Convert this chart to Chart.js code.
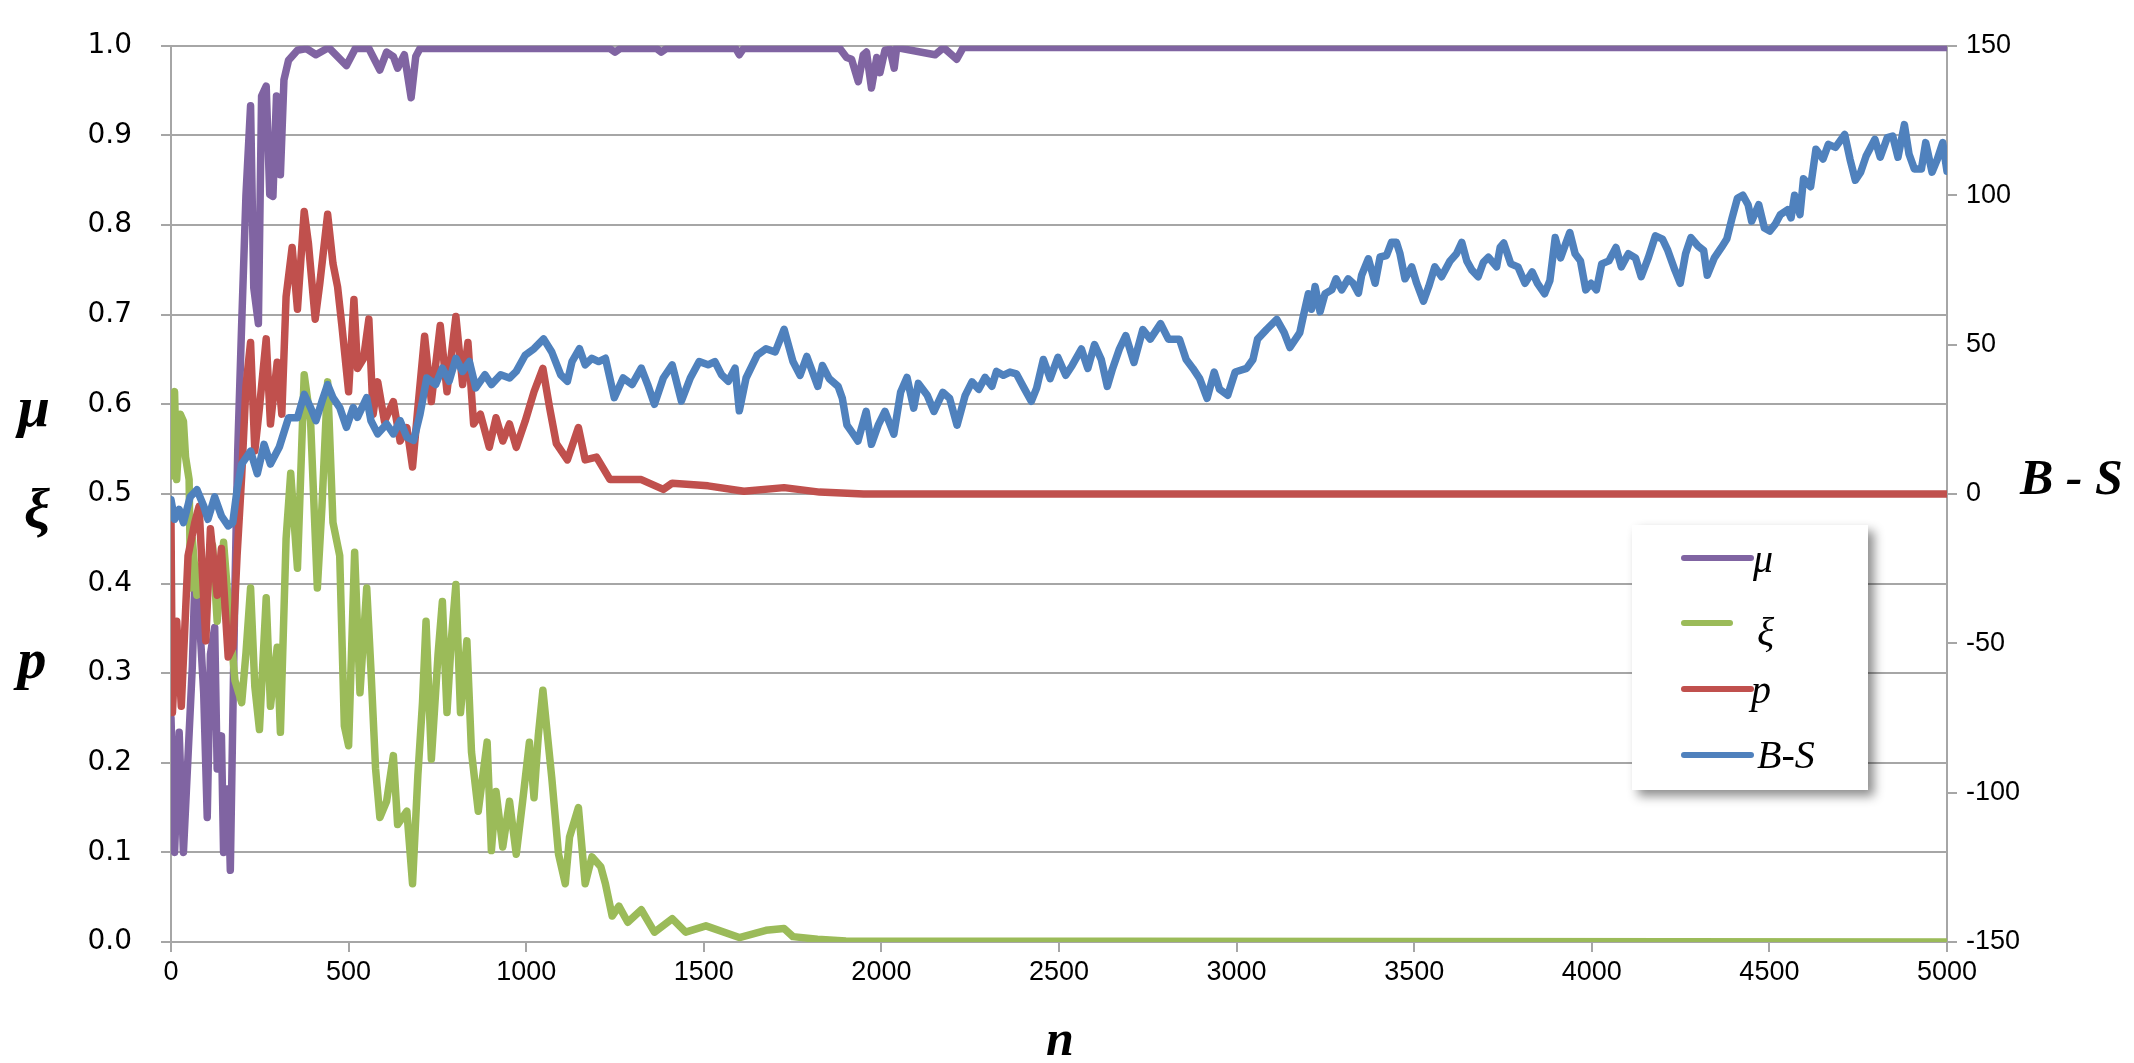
<!DOCTYPE html>
<html>
<head>
<meta charset="utf-8">
<script src="https://cdn.jsdelivr.net/npm/chart.js@4.4.0/dist/chart.umd.min.js"></script>
<style>
  html, body { margin: 0; padding: 0; background: #fff; }
</style>
</head>
<body>
<canvas id="myChart" width="2134" height="1063"></canvas>
<script>
// mu (left axis)
const muN = [0, 10, 23, 35, 60, 67, 79, 92, 102, 111, 123, 130, 142, 148, 161, 167, 180, 188, 199, 211, 224, 233, 246, 255, 268, 278, 287, 297, 308, 318, 331, 356, 381, 408, 444, 494, 519, 557, 588, 607, 626, 638, 657, 676, 689, 701, 1235, 1250, 1265, 1367, 1380, 1395, 1590, 1600, 1612, 1883, 1902, 1916, 1935, 1949, 1958, 1972, 1987, 1996, 2010, 2024, 2036, 2043, 2151, 2175, 2212, 2230, 5000];
const muV = [0.25, 0.1, 0.234, 0.1, 0.307, 0.402, 0.369, 0.278, 0.139, 0.321, 0.351, 0.193, 0.23, 0.1, 0.171, 0.08, 0.395, 0.55, 0.69, 0.833, 0.933, 0.73, 0.69, 0.944, 0.955, 0.834, 0.832, 0.944, 0.856, 0.962, 0.984, 0.995, 0.997, 0.99, 0.998, 0.978, 0.997, 0.997, 0.973, 0.993, 0.988, 0.975, 0.99, 0.942, 0.988, 0.997, 0.997, 0.993, 0.997, 0.997, 0.993, 0.997, 0.997, 0.99, 0.997, 0.997, 0.987, 0.985, 0.96, 0.99, 0.993, 0.953, 0.987, 0.97, 0.995, 0.996, 0.975, 0.998, 0.99, 0.998, 0.985, 0.998, 0.998];

// xi (left axis)
const xiN = [0, 5, 10, 16, 26, 35, 41, 51, 55, 60, 73, 86, 98, 117, 130, 148, 167, 180, 199, 211, 224, 236, 249, 268, 280, 299, 308, 324, 337, 356, 375, 393, 412, 425, 441, 456, 475, 488, 500, 517, 532, 551, 563, 576, 588, 607, 626, 638, 664, 680, 695, 708, 718, 733, 752, 764, 777, 789, 802, 815, 833, 846, 865, 890, 902, 915, 934, 953, 972, 990, 1009, 1022, 1034, 1047, 1060, 1072, 1091, 1110, 1122, 1147, 1166, 1185, 1210, 1223, 1242, 1261, 1286, 1324, 1361, 1411, 1449, 1506, 1600, 1675, 1726, 1751, 1820, 1900, 5000];
const xiV = [0.52, 0.61, 0.614, 0.516, 0.589, 0.581, 0.541, 0.516, 0.395, 0.45, 0.387, 0.42, 0.41, 0.443, 0.358, 0.446, 0.35, 0.292, 0.267, 0.322, 0.395, 0.285, 0.237, 0.384, 0.263, 0.329, 0.234, 0.45, 0.523, 0.417, 0.633, 0.581, 0.395, 0.486, 0.625, 0.468, 0.431, 0.241, 0.219, 0.435, 0.278, 0.395, 0.303, 0.193, 0.139, 0.157, 0.208, 0.131, 0.146, 0.065, 0.186, 0.267, 0.358, 0.204, 0.322, 0.38, 0.256, 0.336, 0.399, 0.256, 0.336, 0.212, 0.146, 0.223, 0.102, 0.168, 0.106, 0.157, 0.098, 0.157, 0.223, 0.161, 0.23, 0.281, 0.23, 0.183, 0.098, 0.065, 0.117, 0.15, 0.065, 0.095, 0.084, 0.065, 0.029, 0.04, 0.022, 0.036, 0.011, 0.026, 0.011, 0.018, 0.005, 0.013, 0.015, 0.006, 0.003, 0.001, 0.0];

// p (left axis)
const pN = [0, 4, 16, 29, 48, 67, 79, 98, 111, 130, 142, 161, 174, 186, 199, 211, 224, 236, 249, 268, 280, 299, 312, 324, 341, 356, 375, 387, 406, 419, 441, 456, 469, 481, 500, 515, 525, 542, 557, 569, 582, 601, 626, 645, 664, 680, 695, 714, 733, 758, 777, 802, 821, 836, 852, 871, 896, 915, 934, 953, 972, 997, 1022, 1047, 1066, 1085, 1116, 1147, 1166, 1198, 1236, 1324, 1386, 1411, 1512, 1613, 1726, 1826, 1950, 5000];
const pV = [0.47, 0.256, 0.358, 0.263, 0.431, 0.468, 0.486, 0.336, 0.461, 0.387, 0.439, 0.318, 0.329, 0.431, 0.52, 0.62, 0.669, 0.548, 0.596, 0.673, 0.578, 0.647, 0.589, 0.72, 0.775, 0.706, 0.815, 0.779, 0.695, 0.735, 0.812, 0.757, 0.731, 0.688, 0.614, 0.717, 0.64, 0.651, 0.695, 0.589, 0.625, 0.581, 0.603, 0.559, 0.574, 0.53, 0.596, 0.676, 0.603, 0.688, 0.614, 0.698, 0.622, 0.669, 0.578, 0.589, 0.552, 0.585, 0.559, 0.578, 0.552, 0.581, 0.614, 0.64, 0.596, 0.556, 0.538, 0.574, 0.538, 0.541, 0.516, 0.516, 0.505, 0.512, 0.509, 0.503, 0.507, 0.502, 0.5, 0.5];

// B-S (right axis)
const bsN = [0, 10, 23, 35, 54, 73, 92, 104, 123, 142, 161, 174, 186, 199, 224, 243, 262, 280, 305, 331, 356, 375, 393, 408, 425, 441, 456, 475, 494, 513, 525, 551, 563, 582, 607, 626, 645, 664, 683, 701, 720, 745, 764, 783, 802, 821, 840, 858, 884, 902, 928, 953, 972, 997, 1022, 1049, 1072, 1097, 1116, 1129, 1150, 1166, 1185, 1204, 1223, 1248, 1273, 1298, 1324, 1342, 1361, 1386, 1411, 1437, 1462, 1487, 1512, 1531, 1550, 1569, 1588, 1600, 1619, 1650, 1675, 1701, 1726, 1751, 1771, 1790, 1821, 1834, 1853, 1878, 1890, 1903, 1915, 1934, 1957, 1972, 1991, 2010, 2035, 2054, 2072, 2091, 2104, 2129, 2148, 2173, 2192, 2213, 2236, 2255, 2274, 2292, 2311, 2324, 2343, 2362, 2380, 2399, 2422, 2437, 2456, 2475, 2497, 2519, 2537, 2563, 2581, 2600, 2619, 2636, 2651, 2670, 2688, 2711, 2736, 2757, 2786, 2808, 2839, 2858, 2877, 2896, 2917, 2937, 2952, 2975, 2996, 3028, 3046, 3059, 3084, 3113, 3134, 3150, 3178, 3188, 3202, 3211, 3221, 3235, 3249, 3268, 3280, 3296, 3314, 3328, 3343, 3352, 3371, 3390, 3404, 3422, 3436, 3450, 3460, 3474, 3493, 3507, 3526, 3541, 3558, 3577, 3601, 3619, 3634, 3648, 3662, 3680, 3695, 3709, 3732, 3742, 3752, 3772, 3792, 3812, 3832, 3847, 3867, 3882, 3897, 3912, 3938, 3953, 3968, 3983, 3998, 4013, 4028, 4048, 4068, 4083, 4103, 4123, 4139, 4159, 4179, 4199, 4214, 4234, 4249, 4264, 4279, 4299, 4315, 4325, 4345, 4365, 4380, 4395, 4410, 4425, 4440, 4450, 4470, 4486, 4501, 4516, 4531, 4551, 4561, 4571, 4586, 4596, 4616, 4631, 4651, 4666, 4686, 4712, 4727, 4742, 4757, 4772, 4797, 4812, 4832, 4847, 4862, 4880, 4893, 4908, 4928, 4940, 4958, 4973, 4988, 5000];
const bsV = [-2, -8.5, -5.2, -9.6, -1, 1.4, -4, -8.5, -1, -7.4, -10.7, -9.6, 1.4, 10, 14.3, 6.8, 16.6, 10, 15.7, 25.5, 25.5, 33.3, 28.9, 24.5, 31, 36.6, 32.2, 28.9, 22.3, 28.9, 25.6, 32.2, 24.5, 20.1, 23.4, 20.1, 24.5, 19, 17.9, 26.6, 38.8, 36.6, 42.1, 37.7, 45.4, 41, 44.3, 35.5, 39.9, 36.6, 39.9, 38.8, 41, 46.4, 48.6, 51.9, 47.5, 39.9, 37.7, 44.3, 48.6, 43.2, 45.4, 44.3, 45.4, 32.2, 38.8, 36.6, 42.1, 36.6, 30, 38.8, 43.2, 31.1, 38.8, 44.3, 43.2, 44.3, 39.9, 37.7, 42.1, 27.8, 38.8, 46.4, 48.6, 47.5, 55.1, 44.3, 39.7, 46, 36, 43, 38.6, 36, 32, 23, 21, 17.7, 27.6, 16.6, 23, 27.6, 20, 34, 39, 28.7, 37, 33, 27.6, 34, 32, 23, 33, 37.5, 35, 39, 36, 41, 39.7, 40.8, 40.2, 36, 31, 35.4, 45, 38.6, 45.7, 39.7, 43, 48.5, 42, 50, 45, 36, 42, 48.5, 53, 44, 55, 51.8, 57, 51.8, 51.8, 45, 42, 38.6, 32, 40.8, 35, 33, 40.8, 42, 45, 51.8, 55, 58.4, 54, 49, 54, 59.6, 67, 61.8, 69.4, 61, 67, 68.3, 72, 68.3, 72, 70.5, 67.2, 73.2, 78.7, 70.5, 79.3, 79.8, 84.2, 84.2, 80.4, 72, 76, 70.5, 64.5, 69.4, 76, 72.7, 78, 80.4, 84.2, 78, 75, 72.7, 77.6, 79.2, 76, 82.5, 84, 77, 76, 70.5, 74.3, 70.5, 67, 71.4, 85.8, 79, 87.5, 80.4, 78, 68.3, 70.5, 68.3, 77, 78, 82.5, 76, 80.4, 79, 72.7, 79, 86.4, 85.3, 81.5, 74.9, 70.5, 80.4, 85.8, 83, 81.5, 73.2, 79, 82.5, 85.3, 92.4, 99, 100, 96.8, 91.3, 96.8, 89, 88, 90.2, 93.5, 95.1, 92.4, 100, 93.5, 105.5, 102.8, 115.4, 112.1, 117, 116, 120.3, 112, 105, 107.7, 113, 118.7, 112.7, 119.3, 119.8, 112.7, 123.6, 113.8, 108.8, 108.8, 117.6, 107.7, 112.1, 117.6, 108];

const leftTicks = { min: 0, max: 1, step: 0.1 };
const rightTicks = { min: -150, max: 150, step: 50 };
const nTicks = { min: 0, max: 5000, step: 500 };

const gridGray = "#a6a6a6";
const toPoints = (ns, vs) => ns.map((n, i) => ({ x: n, y: vs[i] }));

// axis titles and the boxed legend, drawn on top of the chart
const extras = {
  id: "extras",
  afterDraw(chart) {
    const c = chart.ctx;
    c.save();
    c.fillStyle = "#000";
    c.textBaseline = "alphabetic";
    c.textAlign = "center";
    c.font = "bold italic 58px 'Liberation Serif'";
    c.fillText("\u03bc", 34, 426);
    c.fillText("\u03be", 37, 528);
    c.fillText("p", 32, 678);
    c.font = "bold italic 50px 'Liberation Serif'";
    c.fillText("n", 1060, 1055);
    c.textAlign = "left";
    c.fillText("B - S", 2020, 494);

    // legend box with a soft shadow
    c.shadowColor = "rgba(0,0,0,0.45)";
    c.shadowBlur = 10;
    c.shadowOffsetX = 6;
    c.shadowOffsetY = 6;
    c.fillStyle = "#fff";
    c.fillRect(1632, 525, 236, 265);
    c.shadowColor = "transparent";

    const rows = [
      { y: 558, end: 1751, tx: 1753, ty: 572 },
      { y: 623, end: 1730, tx: 1757, ty: 645 },
      { y: 689, end: 1751, tx: 1751, ty: 703 },
      { y: 755, end: 1751, tx: 1757, ty: 768 },
    ];
    c.font = "italic 40px 'Liberation Serif'";
    c.lineCap = "round";
    chart.data.datasets.forEach((ds, i) => {
      const r = rows[i];
      c.strokeStyle = ds.borderColor;
      c.lineWidth = 6;
      c.beginPath();
      c.moveTo(1684, r.y);
      c.lineTo(r.end, r.y);
      c.stroke();
      c.fillStyle = "#000";
      c.fillText(ds.label, r.tx, r.ty);
    });
    c.restore();
  },
};

const ctx = document.getElementById("myChart");

new Chart(ctx, {
  type: "line",
  data: {
    datasets: [
      { label: "\u03bc", data: toPoints(muN, muV), borderColor: "#8064A2", yAxisID: "y", order: 4 },
      { label: "\u03be", data: toPoints(xiN, xiV), borderColor: "#9BBB59", yAxisID: "y", order: 3 },
      { label: "p", data: toPoints(pN, pV), borderColor: "#C0504D", yAxisID: "y", order: 2 },
      { label: "B-S", data: toPoints(bsN, bsV), borderColor: "#4F81BD", yAxisID: "y2", order: 1 },
    ],
  },
  options: {
    responsive: false,
    animation: false,
    layout: { padding: { top: 30, left: 0, right: 0, bottom: 0 } },
    elements: {
      point: { radius: 0 },
      line: { borderWidth: 7.5, tension: 0, borderJoinStyle: "round", borderCapStyle: "round" },
    },
    plugins: { legend: { display: false }, tooltip: { enabled: false } },
    scales: {
      x: {
        type: "linear",
        min: nTicks.min,
        max: nTicks.max,
        ticks: {
          stepSize: nTicks.step,
          padding: 4,
          color: "#000",
          font: { family: "'Liberation Sans Narrow', 'Liberation Sans'", size: 27 },
          callback: (v) => String(v),
        },
        grid: { drawOnChartArea: false, tickLength: 10, color: gridGray, lineWidth: 2 },
        border: { color: gridGray, width: 2 },
        afterFit: (s) => { s.height = 121; },
      },
      y: {
        position: "left",
        min: leftTicks.min,
        max: leftTicks.max,
        ticks: {
          stepSize: leftTicks.step,
          padding: 29,
          color: "#000",
          font: { family: "'DejaVu Sans'", size: 28 },
          callback: (v) => Number(v).toFixed(1),
        },
        grid: { color: gridGray, lineWidth: 2, tickLength: 10 },
        border: { color: gridGray, width: 2 },
        afterFit: (s) => { s.width = 171; },
      },
      y2: {
        position: "right",
        min: rightTicks.min,
        max: rightTicks.max,
        ticks: {
          stepSize: rightTicks.step,
          padding: 9,
          color: "#000",
          font: { family: "'Liberation Sans Narrow', 'Liberation Sans'", size: 27 },
          callback: (v) => String(v),
        },
        grid: { drawOnChartArea: false, tickLength: 10, color: gridGray, lineWidth: 2 },
        border: { color: gridGray, width: 2 },
        afterFit: (s) => { s.width = 187; },
      },
    },
  },
  plugins: [extras],
});
</script>
</body>
</html>
